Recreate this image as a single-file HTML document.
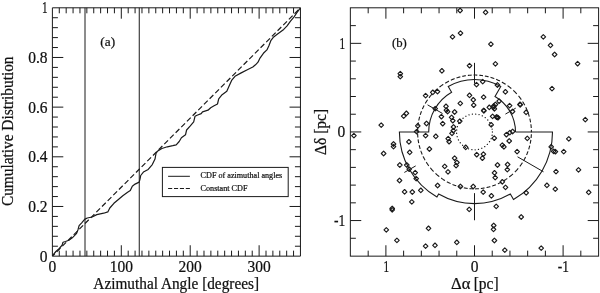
<!DOCTYPE html>
<html><head><meta charset="utf-8"><title>figure</title>
<style>
html,body{margin:0;padding:0;background:#fff;}
svg{display:block;filter:grayscale(1);}
text{font-family:"Liberation Serif",serif;fill:#111;stroke:#111;stroke-width:0.22;}
</style></head>
<body>
<svg width="600" height="293" viewBox="0 0 600 293" stroke="#1a1a1a" fill="none" shape-rendering="geometricPrecision">
<rect x="0" y="0" width="600" height="293" fill="#fff" stroke="none"/>
<rect x="52.4" y="7.8" width="248.05" height="248.35" fill="none" stroke-width="1" stroke-linejoin="round"/>
<line x1="59.29" y1="256.15" x2="59.29" y2="250.65" stroke-width="1" />
<line x1="59.29" y1="7.80" x2="59.29" y2="13.30" stroke-width="1" />
<line x1="66.18" y1="256.15" x2="66.18" y2="250.65" stroke-width="1" />
<line x1="66.18" y1="7.80" x2="66.18" y2="13.30" stroke-width="1" />
<line x1="73.07" y1="256.15" x2="73.07" y2="250.65" stroke-width="1" />
<line x1="73.07" y1="7.80" x2="73.07" y2="13.30" stroke-width="1" />
<line x1="79.96" y1="256.15" x2="79.96" y2="250.65" stroke-width="1" />
<line x1="79.96" y1="7.80" x2="79.96" y2="13.30" stroke-width="1" />
<line x1="86.85" y1="256.15" x2="86.85" y2="250.65" stroke-width="1" />
<line x1="86.85" y1="7.80" x2="86.85" y2="13.30" stroke-width="1" />
<line x1="93.74" y1="256.15" x2="93.74" y2="250.65" stroke-width="1" />
<line x1="93.74" y1="7.80" x2="93.74" y2="13.30" stroke-width="1" />
<line x1="100.63" y1="256.15" x2="100.63" y2="250.65" stroke-width="1" />
<line x1="100.63" y1="7.80" x2="100.63" y2="13.30" stroke-width="1" />
<line x1="107.52" y1="256.15" x2="107.52" y2="250.65" stroke-width="1" />
<line x1="107.52" y1="7.80" x2="107.52" y2="13.30" stroke-width="1" />
<line x1="114.41" y1="256.15" x2="114.41" y2="250.65" stroke-width="1" />
<line x1="114.41" y1="7.80" x2="114.41" y2="13.30" stroke-width="1" />
<line x1="121.30" y1="256.15" x2="121.30" y2="245.25" stroke-width="1" />
<line x1="121.30" y1="7.80" x2="121.30" y2="18.70" stroke-width="1" />
<line x1="128.19" y1="256.15" x2="128.19" y2="250.65" stroke-width="1" />
<line x1="128.19" y1="7.80" x2="128.19" y2="13.30" stroke-width="1" />
<line x1="135.08" y1="256.15" x2="135.08" y2="250.65" stroke-width="1" />
<line x1="135.08" y1="7.80" x2="135.08" y2="13.30" stroke-width="1" />
<line x1="141.97" y1="256.15" x2="141.97" y2="250.65" stroke-width="1" />
<line x1="141.97" y1="7.80" x2="141.97" y2="13.30" stroke-width="1" />
<line x1="148.86" y1="256.15" x2="148.86" y2="250.65" stroke-width="1" />
<line x1="148.86" y1="7.80" x2="148.86" y2="13.30" stroke-width="1" />
<line x1="155.75" y1="256.15" x2="155.75" y2="250.65" stroke-width="1" />
<line x1="155.75" y1="7.80" x2="155.75" y2="13.30" stroke-width="1" />
<line x1="162.64" y1="256.15" x2="162.64" y2="250.65" stroke-width="1" />
<line x1="162.64" y1="7.80" x2="162.64" y2="13.30" stroke-width="1" />
<line x1="169.53" y1="256.15" x2="169.53" y2="250.65" stroke-width="1" />
<line x1="169.53" y1="7.80" x2="169.53" y2="13.30" stroke-width="1" />
<line x1="176.43" y1="256.15" x2="176.43" y2="250.65" stroke-width="1" />
<line x1="176.43" y1="7.80" x2="176.43" y2="13.30" stroke-width="1" />
<line x1="183.32" y1="256.15" x2="183.32" y2="250.65" stroke-width="1" />
<line x1="183.32" y1="7.80" x2="183.32" y2="13.30" stroke-width="1" />
<line x1="190.21" y1="256.15" x2="190.21" y2="245.25" stroke-width="1" />
<line x1="190.21" y1="7.80" x2="190.21" y2="18.70" stroke-width="1" />
<line x1="197.10" y1="256.15" x2="197.10" y2="250.65" stroke-width="1" />
<line x1="197.10" y1="7.80" x2="197.10" y2="13.30" stroke-width="1" />
<line x1="203.99" y1="256.15" x2="203.99" y2="250.65" stroke-width="1" />
<line x1="203.99" y1="7.80" x2="203.99" y2="13.30" stroke-width="1" />
<line x1="210.88" y1="256.15" x2="210.88" y2="250.65" stroke-width="1" />
<line x1="210.88" y1="7.80" x2="210.88" y2="13.30" stroke-width="1" />
<line x1="217.77" y1="256.15" x2="217.77" y2="250.65" stroke-width="1" />
<line x1="217.77" y1="7.80" x2="217.77" y2="13.30" stroke-width="1" />
<line x1="224.66" y1="256.15" x2="224.66" y2="250.65" stroke-width="1" />
<line x1="224.66" y1="7.80" x2="224.66" y2="13.30" stroke-width="1" />
<line x1="231.55" y1="256.15" x2="231.55" y2="250.65" stroke-width="1" />
<line x1="231.55" y1="7.80" x2="231.55" y2="13.30" stroke-width="1" />
<line x1="238.44" y1="256.15" x2="238.44" y2="250.65" stroke-width="1" />
<line x1="238.44" y1="7.80" x2="238.44" y2="13.30" stroke-width="1" />
<line x1="245.33" y1="256.15" x2="245.33" y2="250.65" stroke-width="1" />
<line x1="245.33" y1="7.80" x2="245.33" y2="13.30" stroke-width="1" />
<line x1="252.22" y1="256.15" x2="252.22" y2="250.65" stroke-width="1" />
<line x1="252.22" y1="7.80" x2="252.22" y2="13.30" stroke-width="1" />
<line x1="259.11" y1="256.15" x2="259.11" y2="245.25" stroke-width="1" />
<line x1="259.11" y1="7.80" x2="259.11" y2="18.70" stroke-width="1" />
<line x1="266.00" y1="256.15" x2="266.00" y2="250.65" stroke-width="1" />
<line x1="266.00" y1="7.80" x2="266.00" y2="13.30" stroke-width="1" />
<line x1="272.89" y1="256.15" x2="272.89" y2="250.65" stroke-width="1" />
<line x1="272.89" y1="7.80" x2="272.89" y2="13.30" stroke-width="1" />
<line x1="279.78" y1="256.15" x2="279.78" y2="250.65" stroke-width="1" />
<line x1="279.78" y1="7.80" x2="279.78" y2="13.30" stroke-width="1" />
<line x1="286.67" y1="256.15" x2="286.67" y2="250.65" stroke-width="1" />
<line x1="286.67" y1="7.80" x2="286.67" y2="13.30" stroke-width="1" />
<line x1="293.56" y1="256.15" x2="293.56" y2="250.65" stroke-width="1" />
<line x1="293.56" y1="7.80" x2="293.56" y2="13.30" stroke-width="1" />
<line x1="52.40" y1="246.22" x2="57.90" y2="246.22" stroke-width="1" />
<line x1="300.45" y1="246.22" x2="294.95" y2="246.22" stroke-width="1" />
<line x1="52.40" y1="236.28" x2="57.90" y2="236.28" stroke-width="1" />
<line x1="300.45" y1="236.28" x2="294.95" y2="236.28" stroke-width="1" />
<line x1="52.40" y1="226.35" x2="57.90" y2="226.35" stroke-width="1" />
<line x1="300.45" y1="226.35" x2="294.95" y2="226.35" stroke-width="1" />
<line x1="52.40" y1="216.41" x2="57.90" y2="216.41" stroke-width="1" />
<line x1="300.45" y1="216.41" x2="294.95" y2="216.41" stroke-width="1" />
<line x1="52.40" y1="206.48" x2="63.30" y2="206.48" stroke-width="1" />
<line x1="300.45" y1="206.48" x2="289.55" y2="206.48" stroke-width="1" />
<line x1="52.40" y1="196.55" x2="57.90" y2="196.55" stroke-width="1" />
<line x1="300.45" y1="196.55" x2="294.95" y2="196.55" stroke-width="1" />
<line x1="52.40" y1="186.61" x2="57.90" y2="186.61" stroke-width="1" />
<line x1="300.45" y1="186.61" x2="294.95" y2="186.61" stroke-width="1" />
<line x1="52.40" y1="176.68" x2="57.90" y2="176.68" stroke-width="1" />
<line x1="300.45" y1="176.68" x2="294.95" y2="176.68" stroke-width="1" />
<line x1="52.40" y1="166.74" x2="57.90" y2="166.74" stroke-width="1" />
<line x1="300.45" y1="166.74" x2="294.95" y2="166.74" stroke-width="1" />
<line x1="52.40" y1="156.81" x2="63.30" y2="156.81" stroke-width="1" />
<line x1="300.45" y1="156.81" x2="289.55" y2="156.81" stroke-width="1" />
<line x1="52.40" y1="146.88" x2="57.90" y2="146.88" stroke-width="1" />
<line x1="300.45" y1="146.88" x2="294.95" y2="146.88" stroke-width="1" />
<line x1="52.40" y1="136.94" x2="57.90" y2="136.94" stroke-width="1" />
<line x1="300.45" y1="136.94" x2="294.95" y2="136.94" stroke-width="1" />
<line x1="52.40" y1="127.01" x2="57.90" y2="127.01" stroke-width="1" />
<line x1="300.45" y1="127.01" x2="294.95" y2="127.01" stroke-width="1" />
<line x1="52.40" y1="117.07" x2="57.90" y2="117.07" stroke-width="1" />
<line x1="300.45" y1="117.07" x2="294.95" y2="117.07" stroke-width="1" />
<line x1="52.40" y1="107.14" x2="63.30" y2="107.14" stroke-width="1" />
<line x1="300.45" y1="107.14" x2="289.55" y2="107.14" stroke-width="1" />
<line x1="52.40" y1="97.21" x2="57.90" y2="97.21" stroke-width="1" />
<line x1="300.45" y1="97.21" x2="294.95" y2="97.21" stroke-width="1" />
<line x1="52.40" y1="87.27" x2="57.90" y2="87.27" stroke-width="1" />
<line x1="300.45" y1="87.27" x2="294.95" y2="87.27" stroke-width="1" />
<line x1="52.40" y1="77.34" x2="57.90" y2="77.34" stroke-width="1" />
<line x1="300.45" y1="77.34" x2="294.95" y2="77.34" stroke-width="1" />
<line x1="52.40" y1="67.40" x2="57.90" y2="67.40" stroke-width="1" />
<line x1="300.45" y1="67.40" x2="294.95" y2="67.40" stroke-width="1" />
<line x1="52.40" y1="57.47" x2="63.30" y2="57.47" stroke-width="1" />
<line x1="300.45" y1="57.47" x2="289.55" y2="57.47" stroke-width="1" />
<line x1="52.40" y1="47.54" x2="57.90" y2="47.54" stroke-width="1" />
<line x1="300.45" y1="47.54" x2="294.95" y2="47.54" stroke-width="1" />
<line x1="52.40" y1="37.60" x2="57.90" y2="37.60" stroke-width="1" />
<line x1="300.45" y1="37.60" x2="294.95" y2="37.60" stroke-width="1" />
<line x1="52.40" y1="27.67" x2="57.90" y2="27.67" stroke-width="1" />
<line x1="300.45" y1="27.67" x2="294.95" y2="27.67" stroke-width="1" />
<line x1="52.40" y1="17.73" x2="57.90" y2="17.73" stroke-width="1" />
<line x1="300.45" y1="17.73" x2="294.95" y2="17.73" stroke-width="1" />
<text transform="translate(52.40,272.40) scale(1.0,1.09)" text-anchor="middle" font-size="15.5" >0</text>
<text transform="translate(121.30,272.40) scale(1.0,1.09)" text-anchor="middle" font-size="15.5" >100</text>
<text transform="translate(190.21,272.40) scale(1.0,1.09)" text-anchor="middle" font-size="15.5" >200</text>
<text transform="translate(259.11,272.40) scale(1.0,1.09)" text-anchor="middle" font-size="15.5" >300</text>
<text transform="translate(47.60,261.75) scale(1.0,1.09)" text-anchor="end" font-size="15.5" >0</text>
<text transform="translate(47.60,212.08) scale(1.0,1.09)" text-anchor="end" font-size="15.5" >0.2</text>
<text transform="translate(47.60,162.41) scale(1.0,1.09)" text-anchor="end" font-size="15.5" >0.4</text>
<text transform="translate(47.60,112.74) scale(1.0,1.09)" text-anchor="end" font-size="15.5" >0.6</text>
<text transform="translate(47.60,63.07) scale(1.0,1.09)" text-anchor="end" font-size="15.5" >0.8</text>
<text transform="translate(47.60,13.40) scale(0.72,1.09)" text-anchor="end" font-size="15.5" >1</text>
<text transform="translate(176.20,288.60) scale(1.0,1.09)" text-anchor="middle" font-size="15.3" >Azimuthal Angle [degrees]</text>
<text transform="translate(12.90,131.30) rotate(-90) scale(1.0,1.09)" text-anchor="middle" font-size="15.35" >Cumulative Distribution</text>
<text transform="translate(100.30,46.40) scale(1.0,1.0)" text-anchor="start" font-size="13.3" >(a)</text>
<line x1="85.00" y1="7.80" x2="85.00" y2="256.15" stroke-width="1" />
<line x1="139.25" y1="7.80" x2="139.25" y2="256.15" stroke-width="1" />
<path d="M52.40,256.15L54.78,253.77M56.69,251.85L60.44,248.10M62.36,246.18L66.10,242.43M68.02,240.51L71.77,236.76M73.68,234.84L77.43,231.09M79.35,229.17L83.09,225.42M85.01,223.50L88.76,219.75M90.67,217.83L94.42,214.08M96.34,212.16L100.08,208.41M102.00,206.49L105.75,202.74M107.66,200.82L111.41,197.07M113.33,195.15L117.07,191.40M118.99,189.48L122.73,185.73M124.65,183.81L128.40,180.06M130.32,178.14L134.06,174.39M135.98,172.47L139.72,168.72M141.64,166.80L145.39,163.05M147.31,161.13L151.05,157.38M152.97,155.46L156.71,151.71M158.63,149.79L162.38,146.04M164.29,144.12L168.04,140.37M169.96,138.45L173.70,134.70M175.62,132.78L179.37,129.03M181.28,127.11L185.03,123.36M186.95,121.44L190.69,117.69M192.61,115.77L196.36,112.02M198.27,110.10L202.02,106.35M203.94,104.43L207.68,100.68M209.60,98.76L213.35,95.01M215.26,93.09L219.01,89.34M220.93,87.42L224.67,83.67M226.59,81.75L230.33,78.00M232.25,76.08L236.00,72.33M237.92,70.41L241.66,66.66M243.58,64.74L247.32,60.99M249.24,59.07L252.99,55.32M254.91,53.40L258.65,49.65M260.57,47.73L264.31,43.98M266.23,42.06L269.98,38.31M271.89,36.39L275.64,32.64M277.56,30.72L281.30,26.97M283.22,25.05L286.97,21.30M288.88,19.38L292.63,15.63M294.55,13.71L298.29,9.96M300.21,8.04L300.45,7.80" fill="none" stroke-width="1.2"/>
<polyline fill="none" stroke-width="1.2" stroke-linejoin="round" points="52.5,255.6 55.9,251.5 59.3,248.5 62.1,245.1 63,242.3 65.5,241.5 68.9,240.3 72.3,237.8 76.4,233.7 78,229.7 79.1,225.6 81.9,222.6 84.6,219.4 87.3,218 92.1,217.0 96.8,214.6 103.7,213.2 107.8,211.9 109.8,208 113.9,203.3 118.7,199.2 122.8,195.7 127.6,192.3 130.3,190.6 132.3,186.2 135.1,184.1 139.2,182.1 140.0,179.2 140.7,175.5 143.4,172.1 148.2,169.4 152.3,164.6 155,159.1 156.1,153 157.8,150.9 161.9,148.5 167.3,146.8 172.8,145.7 176.2,144.8 179.2,141.5 181.4,137.8 185.5,134.8 186.6,130 190.3,125.9 193.7,121.8 195,116.3 197.1,115.2 201.2,113.6 202.5,111.8 208,110.2 210.7,107.7 214.1,105.8 217.5,104 218.7,98.8 222.1,94.7 226.8,91.3 228.9,86.5 231.6,80.4 235,76.3 241.2,72.9 247.3,69.7 252.8,67 255.5,64.8 258,62.2 260,58.1 263.4,53.3 266.9,49.9 268.9,45.8 271,40.3 273.7,36.9 276.9,34.5 283.7,29.4 287.1,25.9 290.5,21.2 293.9,17.1 296.7,13 300.4,7.8"/>
<rect x="162.4" y="167.4" width="125.8" height="29.2" fill="#fff" stroke-width="1"/>
<line x1="168.10" y1="176.30" x2="189.90" y2="176.30" stroke-width="1" />
<line x1="168.1" y1="188.5" x2="189.9" y2="188.5" stroke-width="1" stroke-dasharray="4.1 1.8"/>
<text transform="translate(200.60,178.10) scale(1.0,1.09)" text-anchor="start" font-size="8.15" stroke-width="0.1">CDF of azimuthal angles</text>
<text transform="translate(200.60,191.30) scale(1.0,1.09)" text-anchor="start" font-size="8.15" stroke-width="0.1">Constant CDF</text>
<rect x="350.35" y="7.8" width="248.25" height="248.35" fill="none" stroke-width="1"/>
<line x1="580.82" y1="256.15" x2="580.82" y2="250.65" stroke-width="1" />
<line x1="580.82" y1="7.80" x2="580.82" y2="13.30" stroke-width="1" />
<line x1="350.35" y1="238.27" x2="355.85" y2="238.27" stroke-width="1" />
<line x1="598.60" y1="238.27" x2="593.10" y2="238.27" stroke-width="1" />
<line x1="563.10" y1="256.15" x2="563.10" y2="245.25" stroke-width="1" />
<line x1="563.10" y1="7.80" x2="563.10" y2="18.70" stroke-width="1" />
<line x1="350.35" y1="220.55" x2="361.25" y2="220.55" stroke-width="1" />
<line x1="598.60" y1="220.55" x2="587.70" y2="220.55" stroke-width="1" />
<line x1="545.38" y1="256.15" x2="545.38" y2="250.65" stroke-width="1" />
<line x1="545.38" y1="7.80" x2="545.38" y2="13.30" stroke-width="1" />
<line x1="350.35" y1="202.83" x2="355.85" y2="202.83" stroke-width="1" />
<line x1="598.60" y1="202.83" x2="593.10" y2="202.83" stroke-width="1" />
<line x1="527.66" y1="256.15" x2="527.66" y2="250.65" stroke-width="1" />
<line x1="527.66" y1="7.80" x2="527.66" y2="13.30" stroke-width="1" />
<line x1="350.35" y1="185.11" x2="355.85" y2="185.11" stroke-width="1" />
<line x1="598.60" y1="185.11" x2="593.10" y2="185.11" stroke-width="1" />
<line x1="509.94" y1="256.15" x2="509.94" y2="250.65" stroke-width="1" />
<line x1="509.94" y1="7.80" x2="509.94" y2="13.30" stroke-width="1" />
<line x1="350.35" y1="167.39" x2="355.85" y2="167.39" stroke-width="1" />
<line x1="598.60" y1="167.39" x2="593.10" y2="167.39" stroke-width="1" />
<line x1="492.22" y1="256.15" x2="492.22" y2="250.65" stroke-width="1" />
<line x1="492.22" y1="7.80" x2="492.22" y2="13.30" stroke-width="1" />
<line x1="350.35" y1="149.67" x2="355.85" y2="149.67" stroke-width="1" />
<line x1="598.60" y1="149.67" x2="593.10" y2="149.67" stroke-width="1" />
<line x1="474.50" y1="256.15" x2="474.50" y2="245.25" stroke-width="1" />
<line x1="474.50" y1="7.80" x2="474.50" y2="18.70" stroke-width="1" />
<line x1="350.35" y1="131.95" x2="361.25" y2="131.95" stroke-width="1" />
<line x1="598.60" y1="131.95" x2="587.70" y2="131.95" stroke-width="1" />
<line x1="456.78" y1="256.15" x2="456.78" y2="250.65" stroke-width="1" />
<line x1="456.78" y1="7.80" x2="456.78" y2="13.30" stroke-width="1" />
<line x1="350.35" y1="114.23" x2="355.85" y2="114.23" stroke-width="1" />
<line x1="598.60" y1="114.23" x2="593.10" y2="114.23" stroke-width="1" />
<line x1="439.06" y1="256.15" x2="439.06" y2="250.65" stroke-width="1" />
<line x1="439.06" y1="7.80" x2="439.06" y2="13.30" stroke-width="1" />
<line x1="350.35" y1="96.51" x2="355.85" y2="96.51" stroke-width="1" />
<line x1="598.60" y1="96.51" x2="593.10" y2="96.51" stroke-width="1" />
<line x1="421.34" y1="256.15" x2="421.34" y2="250.65" stroke-width="1" />
<line x1="421.34" y1="7.80" x2="421.34" y2="13.30" stroke-width="1" />
<line x1="350.35" y1="78.79" x2="355.85" y2="78.79" stroke-width="1" />
<line x1="598.60" y1="78.79" x2="593.10" y2="78.79" stroke-width="1" />
<line x1="403.62" y1="256.15" x2="403.62" y2="250.65" stroke-width="1" />
<line x1="403.62" y1="7.80" x2="403.62" y2="13.30" stroke-width="1" />
<line x1="350.35" y1="61.07" x2="355.85" y2="61.07" stroke-width="1" />
<line x1="598.60" y1="61.07" x2="593.10" y2="61.07" stroke-width="1" />
<line x1="385.90" y1="256.15" x2="385.90" y2="245.25" stroke-width="1" />
<line x1="385.90" y1="7.80" x2="385.90" y2="18.70" stroke-width="1" />
<line x1="350.35" y1="43.35" x2="361.25" y2="43.35" stroke-width="1" />
<line x1="598.60" y1="43.35" x2="587.70" y2="43.35" stroke-width="1" />
<line x1="368.18" y1="256.15" x2="368.18" y2="250.65" stroke-width="1" />
<line x1="368.18" y1="7.80" x2="368.18" y2="13.30" stroke-width="1" />
<line x1="350.35" y1="25.63" x2="355.85" y2="25.63" stroke-width="1" />
<line x1="598.60" y1="25.63" x2="593.10" y2="25.63" stroke-width="1" />
<text transform="translate(386.20,272.40) scale(0.72,1.09)" text-anchor="middle" font-size="15.5" >1</text>
<text transform="translate(345.20,48.75) scale(0.72,1.09)" text-anchor="end" font-size="15.5" >1</text>
<text transform="translate(474.50,272.40) scale(1.0,1.09)" text-anchor="middle" font-size="15.5" >0</text>
<text transform="translate(345.20,137.35) scale(1.0,1.09)" text-anchor="end" font-size="15.5" >0</text>
<text transform="translate(563.40,272.40) scale(0.87,1.09)" text-anchor="middle" font-size="15.5" >-1</text>
<text transform="translate(345.20,225.95) scale(0.87,1.09)" text-anchor="end" font-size="15.5" >-1</text>
<text transform="translate(470.40,288.80) scale(1.07,1.09)" text-anchor="end" font-size="15.5" >Δα</text>
<text transform="translate(473.70,288.80) scale(1.0,1.09)" text-anchor="start" font-size="15.5" >[pc]</text>
<text transform="translate(325.70,131.90) rotate(-90) scale(1.0,1.09)" text-anchor="middle" font-size="15.5" >Δδ [pc]</text>
<text transform="translate(392.00,46.50) scale(0.96,1.0)" text-anchor="start" font-size="13.3" >(b)</text>
<path d="M531.40,131.95L531.40,131.45L531.39,130.96L531.38,130.46L531.37,129.96L531.36,129.90M531.26,127.98L531.22,127.49L531.18,126.99L531.14,126.50L531.09,126.00L531.03,125.51L530.98,125.02L530.91,124.52L530.87,124.23M530.58,122.31L530.54,122.07L530.45,121.58L530.35,121.09L530.26,120.61L530.16,120.12L530.05,119.63L529.94,119.15L529.83,118.67L529.80,118.56M529.30,116.64L529.20,116.27L529.06,115.79L528.91,115.31L528.77,114.84L528.62,114.37L528.46,113.90L528.30,113.43L528.14,112.96L528.11,112.89M527.39,110.97L527.26,110.63L527.07,110.18L526.88,109.72L526.68,109.26L526.48,108.81L526.28,108.35L526.07,107.90L525.86,107.45L525.74,107.22M524.77,105.30L524.74,105.24L524.50,104.80L524.27,104.36L524.02,103.93L523.78,103.50L523.53,103.07L523.27,102.64L523.02,102.22L522.75,101.80L522.60,101.55M521.33,99.63L521.11,99.31L520.82,98.91L520.53,98.51L520.24,98.10L519.94,97.71L519.64,97.31L519.34,96.92L519.03,96.53L518.72,96.14L518.51,95.88M516.86,93.96L516.78,93.88L516.45,93.51L516.11,93.14L515.77,92.78L515.43,92.42L515.08,92.07L514.73,91.72L514.38,91.37L514.03,91.02L513.67,90.68L513.31,90.34L513.23,90.26M511.31,88.56L511.07,88.36L510.69,88.04L510.31,87.73L509.92,87.42L509.53,87.11L509.14,86.81L508.74,86.51L508.35,86.21L507.94,85.92L507.56,85.64M505.64,84.33L505.49,84.23L505.07,83.96L504.65,83.70L504.23,83.43L503.81,83.18L503.38,82.92L502.95,82.67L502.52,82.43L502.09,82.18L501.89,82.08M499.97,81.07L499.89,81.03L499.44,80.81L499.00,80.59L498.55,80.38L498.10,80.17L497.64,79.97L497.19,79.77L496.73,79.57L496.27,79.38L496.22,79.36M494.30,78.61L493.96,78.48L493.49,78.31L493.02,78.15L492.55,77.99L492.08,77.83L491.61,77.68L491.14,77.54L490.66,77.39L490.55,77.36M488.63,76.83L488.27,76.74L487.78,76.62L487.30,76.51L486.82,76.40L486.33,76.29L485.84,76.19L485.36,76.10L484.88,76.00M482.96,75.68L482.91,75.67L482.42,75.60L481.93,75.54L481.43,75.47L480.94,75.42L480.45,75.36L479.95,75.31L479.46,75.27L479.21,75.25M477.29,75.12L476.98,75.10L476.49,75.08L475.99,75.07L475.49,75.06L475.00,75.05L474.50,75.05L474.00,75.05L473.54,75.06M471.62,75.12L471.52,75.13L471.03,75.16L470.53,75.19L470.04,75.23L469.54,75.27L469.05,75.31L468.55,75.36L468.06,75.42L467.87,75.44M465.95,75.70L465.60,75.75L465.11,75.83L464.62,75.91L464.13,76.00L463.64,76.10L463.16,76.19L462.67,76.29L462.20,76.40M460.28,76.86L460.25,76.86L459.77,76.99L459.29,77.12L458.82,77.25L458.34,77.39L457.86,77.54L457.39,77.68L456.92,77.83L456.53,77.96M454.61,78.64L454.57,78.65L454.11,78.83L453.65,79.01L453.18,79.19L452.73,79.38L452.27,79.57L451.81,79.77L451.36,79.97L450.90,80.17L450.86,80.19M448.94,81.12L448.67,81.25L448.23,81.48L447.79,81.71L447.35,81.95L446.91,82.18L446.48,82.43L446.05,82.67L445.62,82.92L445.19,83.18L445.19,83.18M443.27,84.39L443.09,84.50L442.68,84.78L442.27,85.06L441.86,85.34L441.46,85.63L441.06,85.92L440.65,86.21L440.26,86.51L439.86,86.81L439.52,87.07M437.60,88.64L437.55,88.68L437.17,89.01L436.80,89.33L436.43,89.67L436.06,90.00L435.69,90.34L435.33,90.68L434.97,91.02L434.62,91.37L434.27,91.72L433.92,92.07L433.85,92.13M432.06,94.05L431.88,94.25L431.56,94.62L431.23,95.00L430.91,95.38L430.59,95.76L430.28,96.14L429.97,96.53L429.66,96.92L429.36,97.31L429.06,97.71L428.99,97.80M427.61,99.72L427.33,100.13L427.05,100.54L426.78,100.96L426.51,101.38L426.25,101.80L425.98,102.22L425.73,102.64L425.47,103.07L425.24,103.47M424.18,105.39L424.03,105.68L423.80,106.12L423.58,106.56L423.36,107.01L423.14,107.45L422.93,107.90L422.72,108.35L422.52,108.81L422.37,109.14M421.57,111.06L421.56,111.10L421.38,111.56L421.20,112.02L421.03,112.49L420.86,112.96L420.70,113.43L420.54,113.90L420.38,114.37L420.24,114.81M419.67,116.73L419.67,116.74L419.54,117.22L419.41,117.70L419.29,118.18L419.17,118.67L419.06,119.15L418.95,119.63L418.84,120.12L418.77,120.48M418.41,122.40L418.38,122.56L418.30,123.05L418.22,123.54L418.15,124.03L418.09,124.52L418.02,125.02L417.97,125.51L417.91,126.00L417.90,126.15M417.73,128.07L417.71,128.48L417.68,128.97L417.65,129.47L417.63,129.96L417.62,130.46L417.61,130.96L417.60,131.45L417.60,131.82M417.63,133.74L417.63,133.94L417.65,134.43L417.68,134.93L417.71,135.42L417.74,135.92L417.78,136.41L417.82,136.91L417.86,137.40L417.87,137.49M418.09,139.41L418.15,139.87L418.22,140.36L418.30,140.85L418.38,141.34L418.46,141.83L418.55,142.32L418.65,142.81L418.72,143.16M419.14,145.08L419.17,145.23L419.29,145.72L419.41,146.20L419.54,146.68L419.67,147.16L419.80,147.63L419.94,148.11L420.09,148.59L420.16,148.83M420.80,150.75L420.86,150.94L421.03,151.41L421.20,151.88L421.38,152.34L421.56,152.80L421.74,153.27L421.93,153.72L422.12,154.18L422.26,154.50M423.13,156.42L423.14,156.45L423.36,156.89L423.58,157.34L423.80,157.78L424.03,158.22L424.26,158.66L424.50,159.10L424.73,159.54L424.98,159.97L425.09,160.17M426.24,162.09L426.25,162.10L426.51,162.52L426.78,162.94L427.05,163.36L427.33,163.77L427.61,164.18L427.89,164.59L428.18,164.99L428.47,165.39L428.76,165.80L428.80,165.84M430.28,167.76L430.59,168.14L430.91,168.52L431.23,168.90L431.56,169.28L431.88,169.65L432.22,170.02L432.55,170.39L432.89,170.76L433.23,171.12L433.57,171.48L433.61,171.51M435.51,173.39L435.69,173.56L436.06,173.90L436.43,174.23L436.80,174.57L437.17,174.89L437.55,175.22L437.93,175.54L438.31,175.86L438.69,176.17L439.08,176.48L439.26,176.63M441.18,178.08L441.46,178.27L441.86,178.56L442.27,178.84L442.68,179.12L443.09,179.40L443.51,179.67L443.93,179.94L444.35,180.20L444.77,180.47L444.93,180.56M446.85,181.68L446.91,181.72L447.35,181.95L447.79,182.19L448.23,182.42L448.67,182.65L449.11,182.87L449.56,183.09L450.00,183.31L450.45,183.52L450.60,183.59M452.52,184.43L452.73,184.52L453.18,184.71L453.65,184.89L454.11,185.07L454.57,185.25L455.04,185.42L455.51,185.59L455.98,185.75L456.27,185.85M458.19,186.46L458.34,186.51L458.82,186.65L459.29,186.78L459.77,186.91L460.25,187.04L460.73,187.16L461.22,187.28L461.70,187.39L461.94,187.45M463.86,187.85L464.13,187.90L464.62,187.99L465.11,188.07L465.60,188.15L466.09,188.23L466.58,188.30L467.07,188.36L467.57,188.43L467.61,188.43M469.53,188.63L469.54,188.63L470.04,188.67L470.53,188.71L471.03,188.74L471.52,188.77L472.02,188.80L472.51,188.82L473.01,188.83L473.28,188.84M475.20,188.85L475.49,188.84L475.99,188.83L476.49,188.82L476.98,188.80L477.48,188.77L477.97,188.74L478.47,188.71L478.95,188.68M480.87,188.49L480.94,188.48L481.43,188.43L481.93,188.36L482.42,188.30L482.91,188.23L483.40,188.15L483.89,188.07L484.38,187.99L484.62,187.94M486.54,187.56L486.82,187.50L487.30,187.39L487.78,187.28L488.27,187.16L488.75,187.04L489.23,186.91L489.71,186.78L490.18,186.65L490.29,186.61M492.21,186.02L492.55,185.91L493.02,185.75L493.49,185.59L493.96,185.42L494.43,185.25L494.89,185.07L495.35,184.89L495.82,184.71L495.96,184.65M497.88,183.82L498.10,183.73L498.55,183.52L499.00,183.31L499.44,183.09L499.89,182.87L500.33,182.65L500.77,182.42L501.21,182.19L501.63,181.96M503.55,180.87L503.81,180.72L504.23,180.47L504.65,180.20L505.07,179.94L505.49,179.67L505.91,179.40L506.32,179.12L506.73,178.84L507.14,178.56L507.30,178.44M509.22,177.03L509.53,176.79L509.92,176.48L510.31,176.17L510.69,175.86L511.07,175.54L511.45,175.22L511.83,174.89L512.20,174.57L512.57,174.23L512.94,173.90L512.97,173.87M514.89,172.03L515.08,171.83L515.43,171.48L515.77,171.12L516.11,170.76L516.45,170.39L516.78,170.02L517.12,169.65L517.44,169.28L517.77,168.90L518.09,168.52L518.30,168.28M519.82,166.36L519.94,166.19L520.24,165.80L520.53,165.39L520.82,164.99L521.11,164.59L521.39,164.18L521.67,163.77L521.95,163.36L522.22,162.94L522.44,162.61M523.61,160.69L523.78,160.40L524.02,159.97L524.27,159.54L524.50,159.10L524.74,158.66L524.97,158.22L525.20,157.78L525.42,157.34L525.62,156.94M526.52,155.02L526.68,154.64L526.88,154.18L527.07,153.72L527.26,153.27L527.44,152.80L527.62,152.34L527.80,151.88L527.97,151.41L528.02,151.27M528.68,149.35L528.77,149.06L528.91,148.59L529.06,148.11L529.20,147.63L529.33,147.16L529.46,146.68L529.59,146.20L529.71,145.72L529.74,145.60M530.18,143.68L530.26,143.29L530.35,142.81L530.45,142.32L530.54,141.83L530.62,141.34L530.70,140.85L530.78,140.36L530.84,139.93M531.08,138.01L531.09,137.90L531.14,137.40L531.18,136.91L531.22,136.41L531.26,135.92L531.29,135.42L531.32,134.93L531.35,134.43L531.35,134.26M531.40,132.34L531.40,131.95" fill="none" stroke-width="1.1"/>
<circle cx="474.5" cy="131.95" r="17.9" fill="none" stroke-width="1.3" stroke-linecap="round" stroke-dasharray="0.1 3.3"/>
<path d="M515.50,131.95 L515.50,131.95 A41.0,41.0 0 0 0 495.00,96.44 L500.75,86.48 A52.5,52.5 0 0 0 448.25,86.48 L451.60,92.29 A45.8,45.8 0 0 0 428.70,131.95 L399.40,131.95 A75.1,75.1 0 0 0 436.95,196.99 L438.65,194.04 A71.7,71.7 0 0 0 510.35,194.04 L513.50,199.50 A78.0,78.0 0 0 0 552.50,131.95 L515.50,131.95" fill="none" stroke-width="1.1" stroke-linejoin="miter"/>
<line x1="505.42" y1="114.10" x2="515.72" y2="108.15" stroke-width="1" />
<line x1="474.50" y1="83.65" x2="474.50" y2="62.85" stroke-width="1" />
<line x1="442.54" y1="113.50" x2="427.56" y2="104.85" stroke-width="1" />
<line x1="415.70" y1="165.90" x2="404.35" y2="172.45" stroke-width="1" />
<line x1="474.50" y1="193.15" x2="474.50" y2="220.25" stroke-width="1" />
<line x1="517.54" y1="156.80" x2="543.52" y2="171.80" stroke-width="1" />
<path d="M457.80,10.50L460.10,8.20L462.40,10.50L460.10,12.80Z" fill="#fff" fill-opacity="0" stroke-width="1.15" stroke-linejoin="round"/>
<path d="M483.30,12.30L485.60,10.00L487.90,12.30L485.60,14.60Z" fill="#fff" fill-opacity="0" stroke-width="1.15" stroke-linejoin="round"/>
<path d="M458.20,33.20L460.50,30.90L462.80,33.20L460.50,35.50Z" fill="#fff" fill-opacity="0" stroke-width="1.15" stroke-linejoin="round"/>
<path d="M450.20,36.90L452.50,34.60L454.80,36.90L452.50,39.20Z" fill="#fff" fill-opacity="0" stroke-width="1.15" stroke-linejoin="round"/>
<path d="M488.60,44.20L490.90,41.90L493.20,44.20L490.90,46.50Z" fill="#fff" fill-opacity="0" stroke-width="1.15" stroke-linejoin="round"/>
<path d="M541.00,36.90L543.30,34.60L545.60,36.90L543.30,39.20Z" fill="#fff" fill-opacity="0" stroke-width="1.15" stroke-linejoin="round"/>
<path d="M548.20,45.30L550.50,43.00L552.80,45.30L550.50,47.60Z" fill="#fff" fill-opacity="0" stroke-width="1.15" stroke-linejoin="round"/>
<path d="M552.30,54.50L554.60,52.20L556.90,54.50L554.60,56.80Z" fill="#fff" fill-opacity="0" stroke-width="1.15" stroke-linejoin="round"/>
<path d="M398.00,73.70L400.30,71.40L402.60,73.70L400.30,76.00Z" fill="#fff" fill-opacity="0" stroke-width="1.15" stroke-linejoin="round"/>
<path d="M398.00,76.60L400.30,74.30L402.60,76.60L400.30,78.90Z" fill="#fff" fill-opacity="0" stroke-width="1.15" stroke-linejoin="round"/>
<path d="M439.60,70.80L441.90,68.50L444.20,70.80L441.90,73.10Z" fill="#fff" fill-opacity="0" stroke-width="1.15" stroke-linejoin="round"/>
<path d="M423.30,95.60L425.60,93.30L427.90,95.60L425.60,97.90Z" fill="#fff" fill-opacity="0" stroke-width="1.15" stroke-linejoin="round"/>
<path d="M430.50,92.30L432.80,90.00L435.10,92.30L432.80,94.60Z" fill="#fff" fill-opacity="0" stroke-width="1.15" stroke-linejoin="round"/>
<path d="M435.20,91.60L437.50,89.30L439.80,91.60L437.50,93.90Z" fill="#fff" fill-opacity="0" stroke-width="1.15" stroke-linejoin="round"/>
<path d="M467.20,65.70L469.50,63.40L471.80,65.70L469.50,68.00Z" fill="#fff" fill-opacity="0" stroke-width="1.15" stroke-linejoin="round"/>
<path d="M493.10,63.90L495.40,61.60L497.70,63.90L495.40,66.20Z" fill="#fff" fill-opacity="0" stroke-width="1.15" stroke-linejoin="round"/>
<path d="M480.40,81.60L482.70,79.30L485.00,81.60L482.70,83.90Z" fill="#fff" fill-opacity="0" stroke-width="1.15" stroke-linejoin="round"/>
<path d="M474.20,84.60L476.50,82.30L478.80,84.60L476.50,86.90Z" fill="#fff" fill-opacity="0" stroke-width="1.15" stroke-linejoin="round"/>
<path d="M495.10,85.00L497.40,82.70L499.70,85.00L497.40,87.30Z" fill="#fff" fill-opacity="0" stroke-width="1.15" stroke-linejoin="round"/>
<path d="M503.10,91.80L505.40,89.50L507.70,91.80L505.40,94.10Z" fill="#fff" fill-opacity="0" stroke-width="1.15" stroke-linejoin="round"/>
<path d="M467.20,95.30L469.50,93.00L471.80,95.30L469.50,97.60Z" fill="#fff" fill-opacity="0" stroke-width="1.15" stroke-linejoin="round"/>
<path d="M481.30,97.10L483.60,94.80L485.90,97.10L483.60,99.40Z" fill="#fff" fill-opacity="0" stroke-width="1.15" stroke-linejoin="round"/>
<path d="M471.00,99.80L473.30,97.50L475.60,99.80L473.30,102.10Z" fill="#fff" fill-opacity="0" stroke-width="1.15" stroke-linejoin="round"/>
<path d="M496.80,101.20L499.10,98.90L501.40,101.20L499.10,103.50Z" fill="#fff" fill-opacity="0" stroke-width="1.15" stroke-linejoin="round"/>
<path d="M575.30,63.70L577.60,61.40L579.90,63.70L577.60,66.00Z" fill="#fff" fill-opacity="0" stroke-width="1.15" stroke-linejoin="round"/>
<path d="M549.70,88.60L552.00,86.30L554.30,88.60L552.00,90.90Z" fill="#fff" fill-opacity="0" stroke-width="1.15" stroke-linejoin="round"/>
<path d="M351.60,135.60L353.90,133.30L356.20,135.60L353.90,137.90Z" fill="#fff" fill-opacity="0" stroke-width="1.15" stroke-linejoin="round"/>
<path d="M378.90,125.10L381.20,122.80L383.50,125.10L381.20,127.40Z" fill="#fff" fill-opacity="0" stroke-width="1.15" stroke-linejoin="round"/>
<path d="M401.40,116.10L403.70,113.80L406.00,116.10L403.70,118.40Z" fill="#fff" fill-opacity="0" stroke-width="1.15" stroke-linejoin="round"/>
<path d="M404.10,113.30L406.40,111.00L408.70,113.30L406.40,115.60Z" fill="#fff" fill-opacity="0" stroke-width="1.15" stroke-linejoin="round"/>
<path d="M391.20,144.00L393.50,141.70L395.80,144.00L393.50,146.30Z" fill="#fff" fill-opacity="0" stroke-width="1.15" stroke-linejoin="round"/>
<path d="M391.20,146.60L393.50,144.30L395.80,146.60L393.50,148.90Z" fill="#fff" fill-opacity="0" stroke-width="1.15" stroke-linejoin="round"/>
<path d="M406.60,141.80L408.90,139.50L411.20,141.80L408.90,144.10Z" fill="#fff" fill-opacity="0" stroke-width="1.15" stroke-linejoin="round"/>
<path d="M414.30,131.60L416.60,129.30L418.90,131.60L416.60,133.90Z" fill="#fff" fill-opacity="0" stroke-width="1.15" stroke-linejoin="round"/>
<path d="M415.50,125.80L417.80,123.50L420.10,125.80L417.80,128.10Z" fill="#fff" fill-opacity="0" stroke-width="1.15" stroke-linejoin="round"/>
<path d="M424.20,123.50L426.50,121.20L428.80,123.50L426.50,125.80Z" fill="#fff" fill-opacity="0" stroke-width="1.15" stroke-linejoin="round"/>
<path d="M423.30,135.60L425.60,133.30L427.90,135.60L425.60,137.90Z" fill="#fff" fill-opacity="0" stroke-width="1.15" stroke-linejoin="round"/>
<path d="M433.50,136.30L435.80,134.00L438.10,136.30L435.80,138.60Z" fill="#fff" fill-opacity="0" stroke-width="1.15" stroke-linejoin="round"/>
<path d="M432.90,108.60L435.20,106.30L437.50,108.60L435.20,110.90Z" fill="#fff" fill-opacity="0" stroke-width="1.15" stroke-linejoin="round"/>
<path d="M439.10,116.70L441.40,114.40L443.70,116.70L441.40,119.00Z" fill="#fff" fill-opacity="0" stroke-width="1.15" stroke-linejoin="round"/>
<path d="M440.40,123.70L442.70,121.40L445.00,123.70L442.70,126.00Z" fill="#fff" fill-opacity="0" stroke-width="1.15" stroke-linejoin="round"/>
<path d="M443.70,106.30L446.00,104.00L448.30,106.30L446.00,108.60Z" fill="#fff" fill-opacity="0" stroke-width="1.15" stroke-linejoin="round"/>
<path d="M444.10,110.20L446.40,107.90L448.70,110.20L446.40,112.50Z" fill="#fff" fill-opacity="0" stroke-width="1.15" stroke-linejoin="round"/>
<path d="M445.30,111.60L447.60,109.30L449.90,111.60L447.60,113.90Z" fill="#fff" fill-opacity="0" stroke-width="1.15" stroke-linejoin="round"/>
<path d="M427.10,149.00L429.40,146.70L431.70,149.00L429.40,151.30Z" fill="#fff" fill-opacity="0" stroke-width="1.15" stroke-linejoin="round"/>
<path d="M458.00,103.40L460.30,101.10L462.60,103.40L460.30,105.70Z" fill="#fff" fill-opacity="0" stroke-width="1.15" stroke-linejoin="round"/>
<path d="M471.40,105.20L473.70,102.90L476.00,105.20L473.70,107.50Z" fill="#fff" fill-opacity="0" stroke-width="1.15" stroke-linejoin="round"/>
<path d="M452.30,112.00L454.60,109.70L456.90,112.00L454.60,114.30Z" fill="#fff" fill-opacity="0" stroke-width="1.15" stroke-linejoin="round"/>
<path d="M449.30,117.40L451.60,115.10L453.90,117.40L451.60,119.70Z" fill="#fff" fill-opacity="0" stroke-width="1.15" stroke-linejoin="round"/>
<path d="M450.50,120.70L452.80,118.40L455.10,120.70L452.80,123.00Z" fill="#fff" fill-opacity="0" stroke-width="1.15" stroke-linejoin="round"/>
<path d="M457.50,121.20L459.80,118.90L462.10,121.20L459.80,123.50Z" fill="#fff" fill-opacity="0" stroke-width="1.15" stroke-linejoin="round"/>
<path d="M451.20,127.00L453.50,124.70L455.80,127.00L453.50,129.30Z" fill="#fff" fill-opacity="0" stroke-width="1.15" stroke-linejoin="round"/>
<path d="M451.00,130.70L453.30,128.40L455.60,130.70L453.30,133.00Z" fill="#fff" fill-opacity="0" stroke-width="1.15" stroke-linejoin="round"/>
<path d="M449.70,133.40L452.00,131.10L454.30,133.40L452.00,135.70Z" fill="#fff" fill-opacity="0" stroke-width="1.15" stroke-linejoin="round"/>
<path d="M481.40,110.40L483.70,108.10L486.00,110.40L483.70,112.70Z" fill="#fff" fill-opacity="0" stroke-width="1.15" stroke-linejoin="round"/>
<path d="M481.60,110.80L483.90,108.50L486.20,110.80L483.90,113.10Z" fill="#fff" fill-opacity="0" stroke-width="1.15" stroke-linejoin="round"/>
<path d="M487.00,107.30L489.30,105.00L491.60,107.30L489.30,109.60Z" fill="#fff" fill-opacity="0" stroke-width="1.15" stroke-linejoin="round"/>
<path d="M491.10,107.30L493.40,105.00L495.70,107.30L493.40,109.60Z" fill="#fff" fill-opacity="0" stroke-width="1.15" stroke-linejoin="round"/>
<path d="M492.10,108.80L494.40,106.50L496.70,108.80L494.40,111.10Z" fill="#fff" fill-opacity="0" stroke-width="1.15" stroke-linejoin="round"/>
<path d="M491.50,106.00L493.80,103.70L496.10,106.00L493.80,108.30Z" fill="#fff" fill-opacity="0" stroke-width="1.15" stroke-linejoin="round"/>
<path d="M494.90,117.40L497.20,115.10L499.50,117.40L497.20,119.70Z" fill="#fff" fill-opacity="0" stroke-width="1.15" stroke-linejoin="round"/>
<path d="M493.10,104.50L495.40,102.20L497.70,104.50L495.40,106.80Z" fill="#fff" fill-opacity="0" stroke-width="1.15" stroke-linejoin="round"/>
<path d="M490.30,116.40L492.60,114.10L494.90,116.40L492.60,118.70Z" fill="#fff" fill-opacity="0" stroke-width="1.15" stroke-linejoin="round"/>
<path d="M494.20,117.00L496.50,114.70L498.80,117.00L496.50,119.30Z" fill="#fff" fill-opacity="0" stroke-width="1.15" stroke-linejoin="round"/>
<path d="M495.70,117.70L498.00,115.40L500.30,117.70L498.00,120.00Z" fill="#fff" fill-opacity="0" stroke-width="1.15" stroke-linejoin="round"/>
<path d="M488.90,124.80L491.20,122.50L493.50,124.80L491.20,127.10Z" fill="#fff" fill-opacity="0" stroke-width="1.15" stroke-linejoin="round"/>
<path d="M507.30,105.60L509.60,103.30L511.90,105.60L509.60,107.90Z" fill="#fff" fill-opacity="0" stroke-width="1.15" stroke-linejoin="round"/>
<path d="M510.20,111.50L512.50,109.20L514.80,111.50L512.50,113.80Z" fill="#fff" fill-opacity="0" stroke-width="1.15" stroke-linejoin="round"/>
<path d="M517.70,104.30L520.00,102.00L522.30,104.30L520.00,106.60Z" fill="#fff" fill-opacity="0" stroke-width="1.15" stroke-linejoin="round"/>
<path d="M517.90,104.80L520.20,102.50L522.50,104.80L520.20,107.10Z" fill="#fff" fill-opacity="0" stroke-width="1.15" stroke-linejoin="round"/>
<path d="M504.10,134.70L506.40,132.40L508.70,134.70L506.40,137.00Z" fill="#fff" fill-opacity="0" stroke-width="1.15" stroke-linejoin="round"/>
<path d="M507.50,132.60L509.80,130.30L512.10,132.60L509.80,134.90Z" fill="#fff" fill-opacity="0" stroke-width="1.15" stroke-linejoin="round"/>
<path d="M510.30,131.50L512.60,129.20L514.90,131.50L512.60,133.80Z" fill="#fff" fill-opacity="0" stroke-width="1.15" stroke-linejoin="round"/>
<path d="M445.90,138.70L448.20,136.40L450.50,138.70L448.20,141.00Z" fill="#fff" fill-opacity="0" stroke-width="1.15" stroke-linejoin="round"/>
<path d="M446.80,141.70L449.10,139.40L451.40,141.70L449.10,144.00Z" fill="#fff" fill-opacity="0" stroke-width="1.15" stroke-linejoin="round"/>
<path d="M492.00,138.20L494.30,135.90L496.60,138.20L494.30,140.50Z" fill="#fff" fill-opacity="0" stroke-width="1.15" stroke-linejoin="round"/>
<path d="M506.90,141.00L509.20,138.70L511.50,141.00L509.20,143.30Z" fill="#fff" fill-opacity="0" stroke-width="1.15" stroke-linejoin="round"/>
<path d="M500.00,145.20L502.30,142.90L504.60,145.20L502.30,147.50Z" fill="#fff" fill-opacity="0" stroke-width="1.15" stroke-linejoin="round"/>
<path d="M501.60,146.80L503.90,144.50L506.20,146.80L503.90,149.10Z" fill="#fff" fill-opacity="0" stroke-width="1.15" stroke-linejoin="round"/>
<path d="M463.40,147.30L465.70,145.00L468.00,147.30L465.70,149.60Z" fill="#fff" fill-opacity="0" stroke-width="1.15" stroke-linejoin="round"/>
<path d="M474.40,154.70L476.70,152.40L479.00,154.70L476.70,157.00Z" fill="#fff" fill-opacity="0" stroke-width="1.15" stroke-linejoin="round"/>
<path d="M481.10,154.20L483.40,151.90L485.70,154.20L483.40,156.50Z" fill="#fff" fill-opacity="0" stroke-width="1.15" stroke-linejoin="round"/>
<path d="M480.10,158.20L482.40,155.90L484.70,158.20L482.40,160.50Z" fill="#fff" fill-opacity="0" stroke-width="1.15" stroke-linejoin="round"/>
<path d="M452.30,158.20L454.60,155.90L456.90,158.20L454.60,160.50Z" fill="#fff" fill-opacity="0" stroke-width="1.15" stroke-linejoin="round"/>
<path d="M454.60,162.50L456.90,160.20L459.20,162.50L456.90,164.80Z" fill="#fff" fill-opacity="0" stroke-width="1.15" stroke-linejoin="round"/>
<path d="M453.80,165.60L456.10,163.30L458.40,165.60L456.10,167.90Z" fill="#fff" fill-opacity="0" stroke-width="1.15" stroke-linejoin="round"/>
<path d="M514.80,151.60L517.10,149.30L519.40,151.60L517.10,153.90Z" fill="#fff" fill-opacity="0" stroke-width="1.15" stroke-linejoin="round"/>
<path d="M495.20,165.00L497.50,162.70L499.80,165.00L497.50,167.30Z" fill="#fff" fill-opacity="0" stroke-width="1.15" stroke-linejoin="round"/>
<path d="M505.30,164.50L507.60,162.20L509.90,164.50L507.60,166.80Z" fill="#fff" fill-opacity="0" stroke-width="1.15" stroke-linejoin="round"/>
<path d="M381.30,153.50L383.60,151.20L385.90,153.50L383.60,155.80Z" fill="#fff" fill-opacity="0" stroke-width="1.15" stroke-linejoin="round"/>
<path d="M407.40,152.30L409.70,150.00L412.00,152.30L409.70,154.60Z" fill="#fff" fill-opacity="0" stroke-width="1.15" stroke-linejoin="round"/>
<path d="M397.50,165.00L399.80,162.70L402.10,165.00L399.80,167.30Z" fill="#fff" fill-opacity="0" stroke-width="1.15" stroke-linejoin="round"/>
<path d="M404.50,165.00L406.80,162.70L409.10,165.00L406.80,167.30Z" fill="#fff" fill-opacity="0" stroke-width="1.15" stroke-linejoin="round"/>
<path d="M406.90,169.20L409.20,166.90L411.50,169.20L409.20,171.50Z" fill="#fff" fill-opacity="0" stroke-width="1.15" stroke-linejoin="round"/>
<path d="M412.90,172.60L415.20,170.30L417.50,172.60L415.20,174.90Z" fill="#fff" fill-opacity="0" stroke-width="1.15" stroke-linejoin="round"/>
<path d="M413.90,178.60L416.20,176.30L418.50,178.60L416.20,180.90Z" fill="#fff" fill-opacity="0" stroke-width="1.15" stroke-linejoin="round"/>
<path d="M397.20,180.50L399.50,178.20L401.80,180.50L399.50,182.80Z" fill="#fff" fill-opacity="0" stroke-width="1.15" stroke-linejoin="round"/>
<path d="M442.40,166.40L444.70,164.10L447.00,166.40L444.70,168.70Z" fill="#fff" fill-opacity="0" stroke-width="1.15" stroke-linejoin="round"/>
<path d="M445.70,171.90L448.00,169.60L450.30,171.90L448.00,174.20Z" fill="#fff" fill-opacity="0" stroke-width="1.15" stroke-linejoin="round"/>
<path d="M435.30,185.50L437.60,183.20L439.90,185.50L437.60,187.80Z" fill="#fff" fill-opacity="0" stroke-width="1.15" stroke-linejoin="round"/>
<path d="M418.50,190.30L420.80,188.00L423.10,190.30L420.80,192.60Z" fill="#fff" fill-opacity="0" stroke-width="1.15" stroke-linejoin="round"/>
<path d="M402.30,191.80L404.60,189.50L406.90,191.80L404.60,194.10Z" fill="#fff" fill-opacity="0" stroke-width="1.15" stroke-linejoin="round"/>
<path d="M410.00,192.00L412.30,189.70L414.60,192.00L412.30,194.30Z" fill="#fff" fill-opacity="0" stroke-width="1.15" stroke-linejoin="round"/>
<path d="M409.50,201.90L411.80,199.60L414.10,201.90L411.80,204.20Z" fill="#fff" fill-opacity="0" stroke-width="1.15" stroke-linejoin="round"/>
<path d="M389.90,208.50L392.20,206.20L394.50,208.50L392.20,210.80Z" fill="#fff" fill-opacity="0" stroke-width="1.15" stroke-linejoin="round"/>
<path d="M389.90,209.90L392.20,207.60L394.50,209.90L392.20,212.20Z" fill="#fff" fill-opacity="0" stroke-width="1.15" stroke-linejoin="round"/>
<path d="M384.00,229.90L386.30,227.60L388.60,229.90L386.30,232.20Z" fill="#fff" fill-opacity="0" stroke-width="1.15" stroke-linejoin="round"/>
<path d="M426.20,228.30L428.50,226.00L430.80,228.30L428.50,230.60Z" fill="#fff" fill-opacity="0" stroke-width="1.15" stroke-linejoin="round"/>
<path d="M394.60,240.40L396.90,238.10L399.20,240.40L396.90,242.70Z" fill="#fff" fill-opacity="0" stroke-width="1.15" stroke-linejoin="round"/>
<path d="M423.30,246.10L425.60,243.80L427.90,246.10L425.60,248.40Z" fill="#fff" fill-opacity="0" stroke-width="1.15" stroke-linejoin="round"/>
<path d="M432.70,245.30L435.00,243.00L437.30,245.30L435.00,247.60Z" fill="#fff" fill-opacity="0" stroke-width="1.15" stroke-linejoin="round"/>
<path d="M458.10,186.50L460.40,184.20L462.70,186.50L460.40,188.80Z" fill="#fff" fill-opacity="0" stroke-width="1.15" stroke-linejoin="round"/>
<path d="M470.90,186.50L473.20,184.20L475.50,186.50L473.20,188.80Z" fill="#fff" fill-opacity="0" stroke-width="1.15" stroke-linejoin="round"/>
<path d="M480.90,192.10L483.20,189.80L485.50,192.10L483.20,194.40Z" fill="#fff" fill-opacity="0" stroke-width="1.15" stroke-linejoin="round"/>
<path d="M489.10,195.80L491.40,193.50L493.70,195.80L491.40,198.10Z" fill="#fff" fill-opacity="0" stroke-width="1.15" stroke-linejoin="round"/>
<path d="M493.90,206.40L496.20,204.10L498.50,206.40L496.20,208.70Z" fill="#fff" fill-opacity="0" stroke-width="1.15" stroke-linejoin="round"/>
<path d="M466.90,209.40L469.20,207.10L471.50,209.40L469.20,211.70Z" fill="#fff" fill-opacity="0" stroke-width="1.15" stroke-linejoin="round"/>
<path d="M505.00,169.60L507.30,167.30L509.60,169.60L507.30,171.90Z" fill="#fff" fill-opacity="0" stroke-width="1.15" stroke-linejoin="round"/>
<path d="M492.20,172.80L494.50,170.50L496.80,172.80L494.50,175.10Z" fill="#fff" fill-opacity="0" stroke-width="1.15" stroke-linejoin="round"/>
<path d="M492.90,177.60L495.20,175.30L497.50,177.60L495.20,179.90Z" fill="#fff" fill-opacity="0" stroke-width="1.15" stroke-linejoin="round"/>
<path d="M500.00,181.80L502.30,179.50L504.60,181.80L502.30,184.10Z" fill="#fff" fill-opacity="0" stroke-width="1.15" stroke-linejoin="round"/>
<path d="M503.20,187.40L505.50,185.10L507.80,187.40L505.50,189.70Z" fill="#fff" fill-opacity="0" stroke-width="1.15" stroke-linejoin="round"/>
<path d="M523.90,192.80L526.20,190.50L528.50,192.80L526.20,195.10Z" fill="#fff" fill-opacity="0" stroke-width="1.15" stroke-linejoin="round"/>
<path d="M518.90,217.00L521.20,214.70L523.50,217.00L521.20,219.30Z" fill="#fff" fill-opacity="0" stroke-width="1.15" stroke-linejoin="round"/>
<path d="M491.40,225.50L493.70,223.20L496.00,225.50L493.70,227.80Z" fill="#fff" fill-opacity="0" stroke-width="1.15" stroke-linejoin="round"/>
<path d="M491.20,229.30L493.50,227.00L495.80,229.30L493.50,231.60Z" fill="#fff" fill-opacity="0" stroke-width="1.15" stroke-linejoin="round"/>
<path d="M492.10,240.50L494.40,238.20L496.70,240.50L494.40,242.80Z" fill="#fff" fill-opacity="0" stroke-width="1.15" stroke-linejoin="round"/>
<path d="M454.50,242.30L456.80,240.00L459.10,242.30L456.80,244.60Z" fill="#fff" fill-opacity="0" stroke-width="1.15" stroke-linejoin="round"/>
<path d="M502.50,250.10L504.80,247.80L507.10,250.10L504.80,252.40Z" fill="#fff" fill-opacity="0" stroke-width="1.15" stroke-linejoin="round"/>
<path d="M523.80,112.30L526.10,110.00L528.40,112.30L526.10,114.60Z" fill="#fff" fill-opacity="0" stroke-width="1.15" stroke-linejoin="round"/>
<path d="M583.00,119.60L585.30,117.30L587.60,119.60L585.30,121.90Z" fill="#fff" fill-opacity="0" stroke-width="1.15" stroke-linejoin="round"/>
<path d="M566.50,138.90L568.80,136.60L571.10,138.90L568.80,141.20Z" fill="#fff" fill-opacity="0" stroke-width="1.15" stroke-linejoin="round"/>
<path d="M525.00,138.40L527.30,136.10L529.60,138.40L527.30,140.70Z" fill="#fff" fill-opacity="0" stroke-width="1.15" stroke-linejoin="round"/>
<path d="M548.90,146.80L551.20,144.50L553.50,146.80L551.20,149.10Z" fill="#fff" fill-opacity="0" stroke-width="1.15" stroke-linejoin="round"/>
<path d="M551.30,151.30L553.60,149.00L555.90,151.30L553.60,153.60Z" fill="#fff" fill-opacity="0" stroke-width="1.15" stroke-linejoin="round"/>
<path d="M553.10,151.70L555.40,149.40L557.70,151.70L555.40,154.00Z" fill="#fff" fill-opacity="0" stroke-width="1.15" stroke-linejoin="round"/>
<path d="M561.40,151.60L563.70,149.30L566.00,151.60L563.70,153.90Z" fill="#fff" fill-opacity="0" stroke-width="1.15" stroke-linejoin="round"/>
<path d="M553.70,171.60L556.00,169.30L558.30,171.60L556.00,173.90Z" fill="#fff" fill-opacity="0" stroke-width="1.15" stroke-linejoin="round"/>
<path d="M576.20,169.90L578.50,167.60L580.80,169.90L578.50,172.20Z" fill="#fff" fill-opacity="0" stroke-width="1.15" stroke-linejoin="round"/>
<path d="M544.60,185.30L546.90,183.00L549.20,185.30L546.90,187.60Z" fill="#fff" fill-opacity="0" stroke-width="1.15" stroke-linejoin="round"/>
<path d="M553.00,189.10L555.30,186.80L557.60,189.10L555.30,191.40Z" fill="#fff" fill-opacity="0" stroke-width="1.15" stroke-linejoin="round"/>
<path d="M586.40,192.30L588.70,190.00L591.00,192.30L588.70,194.60Z" fill="#fff" fill-opacity="0" stroke-width="1.15" stroke-linejoin="round"/>
<path d="M538.90,248.10L541.20,245.80L543.50,248.10L541.20,250.40Z" fill="#fff" fill-opacity="0" stroke-width="1.15" stroke-linejoin="round"/>
</svg>
</body></html>
